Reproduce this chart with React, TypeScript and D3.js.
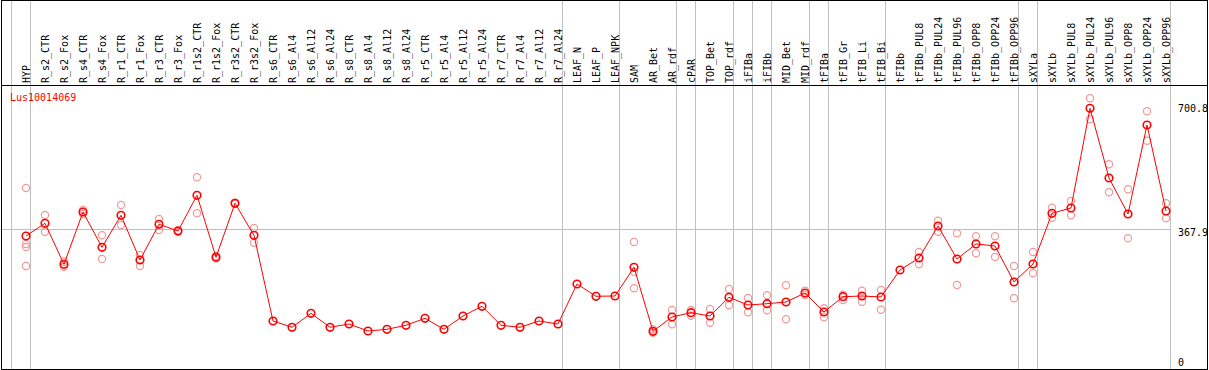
import React from "react";
import * as d3 from "d3";

const geneId = "Lus10014069";

const categories = [
  "HYP", "R_s2_CTR", "R_s2_Fox", "R_s4_CTR", "R_s4_Fox", "R_r1_CTR", "R_r1_Fox",
  "R_r3_CTR", "R_r3_Fox", "R_r1s2_CTR", "R_r1s2_Fox", "R_r3s2_CTR", "R_r3s2_Fox",
  "R_s6_CTR", "R_s6_Al4", "R_s6_Al12", "R_s6_Al24", "R_s8_CTR", "R_s8_Al4", "R_s8_Al12",
  "R_s8_Al24", "R_r5_CTR", "R_r5_Al4", "R_r5_Al12", "R_r5_Al24", "R_r7_CTR", "R_r7_Al4",
  "R_r7_Al12", "R_r7_Al24", "LEAF_N", "LEAF_P", "LEAF_NPK", "SAM", "AR_Bet", "AR_rdf",
  "cPAR", "TOP_Bet", "TOP_rdf", "iFIBa", "iFIBb", "MID_Bet", "MID_rdf", "tFIBa",
  "tFIB_Gr", "tFIB_Li", "tFIB_Bi", "tFIBb", "tFIBb_PUL8", "tFIBb_PUL24", "tFIBb_PUL96",
  "tFIBb_OPP8", "tFIBb_OPP24", "tFIBb_OPP96", "sXYLa", "sXYLb", "sXYLb_PUL8",
  "sXYLb_PUL24", "sXYLb_PUL96", "sXYLb_OPP8", "sXYLb_OPP24", "sXYLb_OPP96",
];

const means = [
  348.1, 383.1, 269.9, 414.4, 316.8, 405.2, 281.8, 380.4, 361.9, 460.5, 289.2, 438.4, 350.0,
  113.3, 95.9, 134.5, 95.9, 105.0, 85.6, 90.3, 101.4, 120.7, 90.3, 127.1, 153.9, 101.4, 95.9,
  113.3, 105.0, 215.5, 181.5, 182.3, 261.6, 84.8, 124.3, 136.2, 127.1, 178.7, 157.5, 161.0,
  165.7, 190.6, 138.1, 180.4, 182.3, 179.6, 254.1, 287.3, 375.7, 284.5, 326.0, 320.4, 221.0,
  270.7, 410.8, 425.4, 700.8, 508.3, 408.8, 654.7, 417.1,
];

const replicates: number[][] = [
  [480.7, 326.0, 317.7, 265.2], [406.1, 359.9], [277.1, 263.3], [419.9, 408.8], [350.0, 284.5],
  [433.7, 378.5], [295.6, 265.2], [395.0, 364.6], [363.8, 359.9], [510.2, 410.8], [292.8, 286.5],
  [440.0, 436.5], [370.2, 329.6],
  [], [], [], [], [], [], [], [], [], [], [], [], [], [], [], [], [], [], [],
  [331.5, 249.4, 203.6], [90.3, 80.9], [143.6, 104.1], [143.6, 127.9], [146.4, 108.6],
  [201.7, 156.6], [176.8, 137.3], [184.3, 142.8], [211.9, 118.0], [197.0, 185.1], [148.3, 123.5],
  [185.9, 171.3], [197.0, 166.6], [198.9, 144.5], [], [303.9, 269.9], [390.3, 359.9],
  [355.5, 212.7], [347.2, 300.3], [347.2, 290.1], [265.2, 176.0], [303.9, 245.0], [426.2, 398.6],
  [444.7, 405.2], [728.4, 670.4], [546.1, 468.8], [477.1, 341.7], [692.5, 611.3], [438.4, 397.0],
];

// groups end after these columns
const groupEnds = [
  "HYP", "R_r7_Al24", "LEAF_NPK", "AR_rdf", "cPAR", "TOP_rdf", "iFIBa", "iFIBb",
  "MID_rdf", "tFIBa", "tFIB_Bi", "tFIBb_OPP96", "sXYLa", "sXYLb_OPP96",
];

const yLabels = [700.8, 367.9, 0];
const gridValue = 367.9;

const W = 1209;
const H = 370;
const mono = "'DejaVu Sans Mono', monospace";

export default function App() {
  const x = d3.scalePoint<string>().domain(categories).range([26, 1166]);
  const y = d3.scaleLinear().domain([0, 700.8]).range([362, 108.3]);

  const line = d3
    .line<number>()
    .x((_, i) => x(categories[i])!)
    .y((d) => y(d));

  const sepX = [x("HYP")! - 15, ...groupEnds.map((c) => x(c)! + 4)];
  const lastX = x("sXYLb_OPP96")! + 4;

  return (
    <div style={{ position: "fixed", left: 0, top: 0 }}>
      <svg width={W} height={H} style={{ display: "block", background: "#fff" }}>
        {sepX.map((sx, i) => (
          <line key={i} x1={sx + 0.5} x2={sx + 0.5} y1={0} y2={369} stroke="#c0c0c0" />
        ))}
        <line x1={1} x2={lastX + 0.5} y1={Math.round(y(gridValue)) + 0.5} y2={Math.round(y(gridValue)) + 0.5} stroke="#c0c0c0" />
        <rect x={1.5} y={0.5} width={1206} height={369} fill="none" stroke="#000" />
        <line x1={1} x2={1207} y1={85.5} y2={85.5} stroke="#000" />

        {categories.map((c) => (
          <text
            key={c}
            transform={`translate(${x(c)! + 3.5},83) rotate(-90)`}
            fontFamily={mono}
            fontSize={10}
            fill="#000"
          >
            {c}
          </text>
        ))}

        <text x={10} y={100.5} fontFamily={mono} fontSize={10} fill="#ff0000">
          {geneId}
        </text>

        {yLabels.map((v) => (
          <text
            key={v}
            x={1178}
            y={y(v) + (v === gridValue ? 7.5 : 3.5)}
            fontFamily={mono}
            fontSize={10}
            fill="#000"
          >
            {v}
          </text>
        ))}

        {replicates.map((reps, i) =>
          reps.map((r, j) => (
            <circle
              key={`${i}-${j}`}
              cx={x(categories[i])}
              cy={y(r)}
              r={3.6}
              fill="none"
              stroke="#f09a9a"
              strokeWidth={1.2}
            />
          ))
        )}

        <path d={line(means)!} fill="none" stroke="#ff0000" strokeWidth={1} />

        {means.map((m, i) => (
          <circle
            key={i}
            cx={x(categories[i])}
            cy={y(m)}
            r={3.8}
            fill="none"
            stroke="#ff0000"
            strokeWidth={1.6}
          />
        ))}
      </svg>
    </div>
  );
}
